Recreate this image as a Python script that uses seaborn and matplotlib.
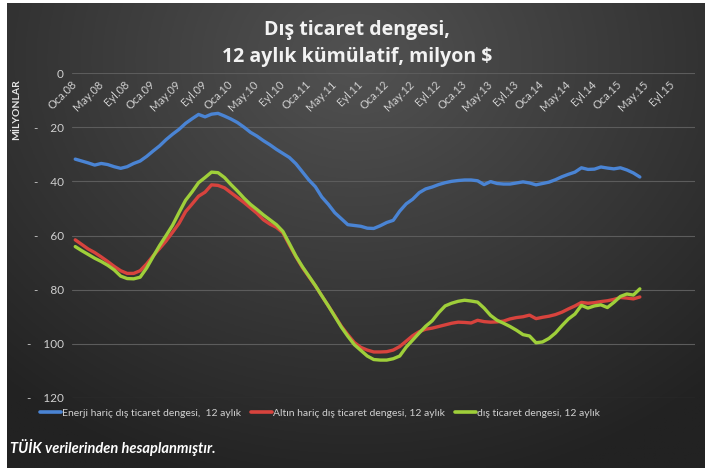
import numpy as np
import pandas as pd
import seaborn as sns
import matplotlib.pyplot as plt
from matplotlib.lines import Line2D

# Months Jan 2008 .. Apr 2015 (88 months), values in milyon $ (read as negatives)
ay_etiket = ['Oca', 'May', 'Eyl']
yillar = list(range(2008, 2016))

enerji_haric = [31.8, 32.5, 33.2, 34.0, 33.4, 33.8, 34.6, 35.2, 34.6, 33.4, 32.5, 30.8,
                28.8, 26.9, 24.6, 22.6, 20.8, 18.6, 16.9, 15.3, 16.2, 15.2, 14.9, 15.9,
                17.0, 18.3, 20.0, 21.9, 23.3, 25.0, 26.5, 28.2, 29.7, 31.2, 33.5, 36.5,
                39.5, 42.0, 45.8, 48.5, 51.6, 53.8, 56.0, 56.3, 56.6, 57.3, 57.4, 56.4,
                55.2, 54.4, 51.0, 48.3, 46.6, 44.2, 42.8, 42.1, 41.2, 40.5, 40.0, 39.7,
                39.5, 39.5, 39.8, 41.2, 40.1, 40.8, 41.0, 41.0, 40.6, 40.2, 40.6, 41.3,
                40.8, 40.3, 39.4, 38.3, 37.4, 36.6, 35.0, 35.6, 35.5, 34.7, 35.1, 35.4,
                35.0, 35.8, 36.9, 38.4]

altin_haric = [61.6, 63.3, 65.0, 66.3, 67.9, 69.6, 71.4, 73.0, 74.0, 74.0, 73.0, 70.5,
               67.5, 64.8, 62.0, 58.8, 55.5, 51.2, 48.4, 45.5, 44.0, 41.3, 41.5, 42.4,
               44.2, 46.0, 47.8, 49.8, 51.8, 54.2, 55.8, 57.0, 59.0, 63.5, 67.8, 71.8,
               75.2, 78.6, 82.3, 86.0, 89.7, 93.5, 96.6, 99.5, 101.3, 102.3, 103.0, 103.0,
               102.9, 102.3, 101.0, 99.0, 97.0, 95.5, 94.6, 94.2, 93.6, 93.0, 92.4, 92.0,
               92.1, 92.3, 91.3, 91.8, 92.0, 91.9, 91.6, 90.8, 90.3, 90.0, 89.4, 90.7,
               90.2, 89.8, 89.2, 88.3, 87.1, 86.0, 84.7, 85.0, 84.8, 84.4, 84.1, 83.6,
               82.9, 83.1, 83.4, 82.7]

dis_ticaret = [64.1, 65.6, 67.0, 68.4, 69.6, 71.0, 72.7, 75.0, 75.9, 76.0, 75.4, 72.0,
               67.8, 63.7, 60.0, 56.2, 51.5, 47.0, 43.9, 40.5, 38.6, 36.6, 36.8, 38.6,
               41.2, 43.6, 46.2, 48.5, 50.4, 52.4, 54.2, 56.0, 58.5, 63.0, 67.6, 71.5,
               75.0, 78.5, 82.3, 86.0, 89.9, 93.8, 97.2, 100.3, 102.4, 104.5, 105.8, 106.0,
               106.0, 105.5, 104.5, 101.2, 98.6, 96.0, 93.5, 91.5, 88.5, 86.0, 85.0, 84.3,
               83.9, 84.2, 84.6, 86.8, 89.5, 91.3, 92.4, 93.6, 95.0, 96.6, 97.1, 99.6,
               99.3, 98.0, 96.0, 93.3, 90.8, 89.0, 85.8, 86.8, 86.0, 85.6, 86.6, 84.7,
               82.5, 81.6, 82.0, 79.7]

seriler = ['Enerji hariç dış ticaret dengesi,  12 aylık',
           'Altın hariç dış ticaret dengesi, 12 aylık',
           'dış ticaret dengesi, 12 aylık']
renkler = ['#4a84d4', '#d8433d', '#9fcf3a']

frames = []
for ad, vals in zip(seriler, [enerji_haric, altin_haric, dis_ticaret]):
    frames.append(pd.DataFrame({'ay': np.arange(len(vals)), 'deger': -np.array(vals), 'seri': ad}))
df = pd.concat(frames, ignore_index=True)

sns.set_style('dark')
plt.rcParams['font.family'] = ['Lato', 'DejaVu Sans']

fig = plt.figure(figsize=(7.05, 4.68), dpi=100)
fig.patch.set_facecolor('white')

# dark radial background
bg = fig.add_axes([7 / 705, 0, 1 - 7 / 705, 1 - 3 / 468], zorder=-5)
h, w = 200, 300
yy, xx = np.mgrid[0:1:h * 1j, 0:1:w * 1j]
d = np.sqrt(((xx - 0.5) / 0.8) ** 2 + ((yy - 0.12) / 1.0) ** 2)
d = np.clip(d / 0.95, 0, 1)
light = np.array([0x52, 0x52, 0x52]) / 255
dark = np.array([0x22, 0x22, 0x22]) / 255
img = light[None, None, :] * (1 - d[..., None]) + dark[None, None, :] * d[..., None]
bg.imshow(img, aspect='auto', extent=[0, 1, 1, 0])
bg.set_axis_off()

ax = fig.add_axes([72 / 705, 1 - 398 / 468, 623 / 705, 325 / 468])
ax.set_facecolor('none')
sns.lineplot(data=df, x='ay', y='deger', hue='seri', palette=renkler, linewidth=2.4,
             ax=ax, legend=False)

ax.set_xlim(-0.5, 95.5)
ax.set_ylim(-120, 0)
ax.set_xlabel('')
ax.set_ylabel('')

# x labels sit under the zero line at the top (move spine first, it resets ticks)
ax.spines['bottom'].set_position(('data', 0))
for s in ax.spines.values():
    s.set_visible(False)
ticks = np.arange(0, 96, 4)
labels = [f"{ay_etiket[i % 3]}.{(yillar[i // 3]) % 100:02d}" for i in range(len(ticks))]
ax.set_xticks(ticks)
ax.set_xticklabels(labels, rotation=45, ha='right', va='center', rotation_mode='anchor',
                   fontsize=8, color='#d0d0d0')
ax.tick_params(axis='x', length=0, pad=7)

yt = np.arange(0, -121, -20)
ax.set_yticks(yt)
ax.set_yticklabels(['0'] + [f"-    {abs(v)}" for v in yt[1:]], fontsize=8.5, color='#d0d0d0')
ax.tick_params(axis='y', length=0, pad=6)
ax.grid(axis='y', color='#5c5c5c', linewidth=0.8)
ax.grid(axis='x', visible=False)

fig.text(17 / 705, 1 - 110 / 468, 'MİLYONLAR', rotation=90, ha='center', va='center',
         fontsize=7.5, fontweight='bold', color='#e6e6e6')

fig.text(357 / 705, 1 - 30 / 468, 'Dış ticaret dengesi,', ha='center', va='center',
         fontsize=14, fontweight='bold', color='#f2f2f2', family='Open Sans')
fig.text(357 / 705, 1 - 57 / 468, '12 aylık kümülatif, milyon $', ha='center', va='center',
         fontsize=14, fontweight='bold', color='#f2f2f2', family='Open Sans')

handles = [Line2D([0], [0], color=c, lw=2.6) for c in renkler]
fig.legend(handles, seriler, loc='center', bbox_to_anchor=(320 / 705, 1 - 413 / 468),
           ncol=3, frameon=False, fontsize=7.5, labelcolor='#d0d0d0', handlelength=2.0,
           handletextpad=0.1, columnspacing=1.0)

fig.text(10 / 705, 1 - 448 / 468, 'TÜİK verilerinden hesaplanmıştır.', ha='left', va='center',
         fontsize=10.5, fontweight='bold', fontstyle='italic', color='white')

fig.savefig('out.png', dpi=100)
